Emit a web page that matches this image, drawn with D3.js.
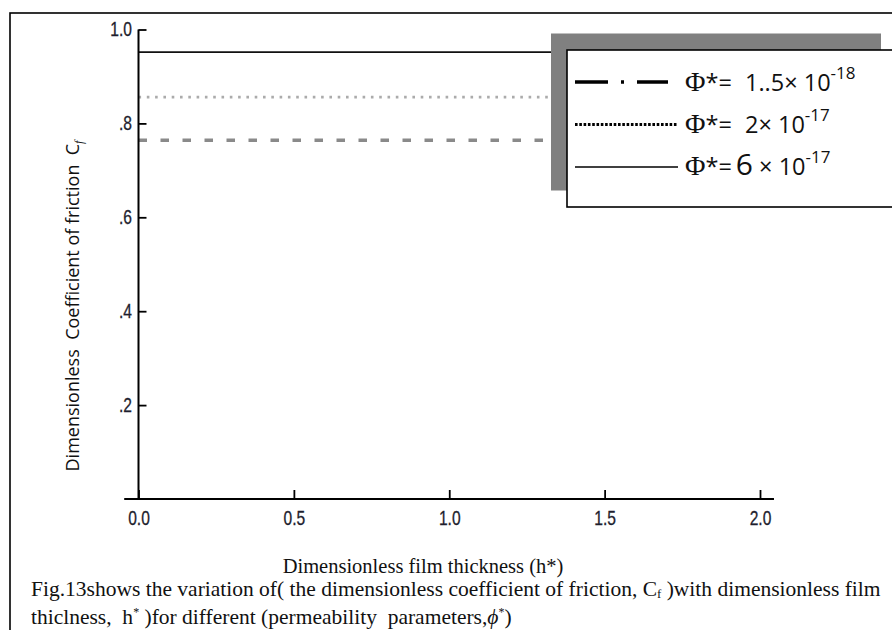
<!DOCTYPE html>
<html>
<head>
<meta charset="utf-8">
<script src="https://cdn.jsdelivr.net/npm/d3@7"></script>
<style>
  body { margin: 0; background: #fff; }
  text { white-space: pre; }
</style>
</head>
<body>
<div id="chart"></div>
<script>
// values
var hRange = [0, 2];
var cfValues = [0.764, 0.856, 0.952];          // dashed, dotted, solid
var phiBase = ["1..5× 10", "2× 10", "6 × 10"];
var phiExp = ["-18", "-17", "-17"];
var xTickValues = [0, 0.5, 1.0, 1.5, 2.0];
var xTickLabels = ["0.0", "0.5", "1.0", "1.5", "2.0"];
var yTickValues = [0.2, 0.4, 0.6, 0.8, 1.0];
var yTickLabels = [".2", ".4", ".6", ".8", "1.0"];

var W = 892, H = 630;

var svg = d3.select("#chart").append("svg")
    .attr("width", W)
    .attr("height", H);

svg.append("rect").attr("width", W).attr("height", H).attr("fill", "#fff");

// outer frame (runs off the right and bottom)
svg.append("rect")
    .attr("x", 10).attr("y", 13)
    .attr("width", 1000).attr("height", 1000)
    .attr("fill", "none").attr("stroke", "#000").attr("stroke-width", 1.6);

var x = d3.scaleLinear().domain([0, 2]).range([138.5, 760]);
var y = d3.scaleLinear().domain([0, 1]).range([499, 29.5]);

var tickFont = "'Liberation Sans', Arial, sans-serif";
var squeeze = 0.78;   // tick labels are drawn in a narrow face

// data lines
var lineStyles = [
  { stroke: "#8a8a8a", width: 3.6, dash: "8.5 13.5" },
  { stroke: "#ababab", width: 2.6, dash: "2.6 5.7" },
  { stroke: "#111", width: 1.8, dash: null }
];

var lineGen = d3.line().x(function(d) { return x(d[0]); }).y(function(d) { return y(d[1]); });

svg.append("g").selectAll("path")
    .data(cfValues)
    .enter().append("path")
    .attr("d", function(v) { return lineGen(hRange.map(function(h) { return [h, v]; })); })
    .attr("fill", "none")
    .attr("stroke", function(d, i) { return lineStyles[i].stroke; })
    .attr("stroke-width", function(d, i) { return lineStyles[i].width; })
    .attr("stroke-dasharray", function(d, i) { return lineStyles[i].dash; });

// x axis
var xAxisG = svg.append("g").attr("transform", "translate(0," + y(0) + ")");
xAxisG.call(d3.axisBottom(x).tickValues(d3.range(0, 2.001, 0.1)).tickSize(-5).tickFormat(""));
xAxisG.call(d3.axisBottom(x).tickValues(xTickValues).tickSize(-9).tickPadding(12)
    .tickFormat(function(d, i) { return xTickLabels[i]; }));
xAxisG.selectAll(".domain").remove();
xAxisG.append("line")
    .attr("x1", x(-0.046)).attr("x2", x(2.045))
    .attr("stroke", "#000").attr("stroke-width", 2);

// y axis
var yAxisG = svg.append("g").attr("transform", "translate(" + x(0) + ",0)");
yAxisG.call(d3.axisLeft(y).tickValues(d3.range(0.05, 1.0, 0.05)).tickSize(-5).tickFormat(""));
yAxisG.call(d3.axisLeft(y).tickValues(yTickValues).tickSize(-8).tickPadding(6.5)
    .tickFormat(function(d, i) { return yTickLabels[i]; }));
yAxisG.selectAll(".domain").remove();
yAxisG.append("line")
    .attr("y1", y(0)).attr("y2", y(1))
    .attr("stroke", "#000").attr("stroke-width", 2);

svg.selectAll(".tick line").attr("stroke", "#000").attr("stroke-width", 1.8);
svg.selectAll(".tick text")
    .attr("font-family", tickFont)
    .attr("font-size", 20)
    .attr("fill", "#1e1e2e")
    .attr("stroke", "#1e1e2e")
    .attr("stroke-width", 0.3)
    .attr("transform", "scale(" + squeeze + ",1)");
yAxisG.selectAll(".tick text").attr("x", -6.5 / squeeze);

// y axis title
var yTitle = svg.append("text")
    .attr("transform", "translate(79,306) rotate(-90)")
    .attr("text-anchor", "middle")
    .attr("font-family", "'Open Sans', sans-serif")
    .attr("font-size", 18)
    .attr("fill", "#111");
yTitle.append("tspan").text("Dimensionless  Coefficient of friction  C");
yTitle.append("tspan")
    .attr("font-family", "'Liberation Serif', serif")
    .attr("font-style", "italic")
    .attr("font-size", 12)
    .attr("dy", 4)
    .text("f");

// x axis title and caption
var serif = "'Liberation Serif', 'Times New Roman', serif";
svg.append("text")
    .attr("x", 423).attr("y", 573)
    .attr("text-anchor", "middle")
    .attr("font-family", serif).attr("font-size", 20.5)
    .attr("fill", "#111")
    .text("Dimensionless film thickness (h*)");

var cap1 = svg.append("text")
    .attr("x", 31).attr("y", 596)
    .attr("font-family", serif).attr("font-size", 21.5)
    .attr("fill", "#111");
cap1.append("tspan").text("Fig.13shows the variation of( the dimensionless coefficient of friction, C");
cap1.append("tspan").attr("font-size", 13).attr("dy", 2).text("f");
cap1.append("tspan").attr("dy", -2).text(" )with dimensionless film");

var cap2 = svg.append("text")
    .attr("x", 31).attr("y", 624)
    .attr("font-family", serif).attr("font-size", 21.5)
    .attr("fill", "#111");
cap2.append("tspan").text("thiclness,  h");
cap2.append("tspan").attr("font-size", 12).attr("dy", -8).text("*");
cap2.append("tspan").attr("dy", 8).text(" )for different (permeability  parameters,");
cap2.append("tspan").attr("font-style", "italic").text("ϕ");
cap2.append("tspan").attr("font-size", 12).attr("dy", -8).text("*");
cap2.append("tspan").attr("dy", 8).text(")");

// legend with drop shadow
var legend = svg.append("g");
legend.append("rect")
    .attr("x", 551).attr("y", 33.5).attr("width", 330).attr("height", 157)
    .attr("fill", "#808080");
legend.append("rect")
    .attr("x", 567).attr("y", 50).attr("width", 400).attr("height", 157)
    .attr("fill", "#fff").attr("stroke", "#000").attr("stroke-width", 1.6);

var legendSamples = [
  { width: 3.6, dash: "33 13 3 13 33" },
  { width: 3, dash: "2.6 1.7" },
  { width: 1.3, dash: null }
];
var rowY = d3.scalePoint().domain(d3.range(3)).range([82, 167]);
var baseY = d3.scalePoint().domain(d3.range(3)).range([90.5, 175]);

legend.selectAll("line.sample")
    .data(d3.range(3))
    .enter().append("line")
    .attr("class", "sample")
    .attr("x1", 575).attr("x2", function(i) { return i === 0 ? 668 : 678; })
    .attr("y1", function(i) { return rowY(i); })
    .attr("y2", function(i) { return rowY(i); })
    .attr("stroke", "#000")
    .attr("stroke-width", function(i) { return legendSamples[i].width; })
    .attr("stroke-dasharray", function(i) { return legendSamples[i].dash; });

var labels = legend.selectAll("text.lbl")
    .data(d3.range(3))
    .enter().append("text")
    .attr("class", "lbl")
    .attr("x", 685)
    .attr("y", function(i) { return baseY(i); })
    .attr("font-family", "'Open Sans', sans-serif")
    .attr("font-size", 23.5)
    .attr("fill", "#111");

labels.append("tspan")
    .attr("font-family", serif)
    .attr("font-size", 28)
    .text("Φ");
labels.append("tspan").text(function(i) { return i === 2 ? "*=" : "*= "; });
labels.each(function(i) {
  var t = d3.select(this);
  if (i === 2) {
    t.append("tspan").attr("dx", 4).attr("font-size", 30).text("6");
    t.append("tspan").text(phiBase[i].slice(1));
  } else {
    t.append("tspan").attr("dx", 7).text(phiBase[i]);
  }
  t.append("tspan").attr("font-size", 17).attr("dy", -12).text(phiExp[i]);
});
</script>
</body>
</html>
